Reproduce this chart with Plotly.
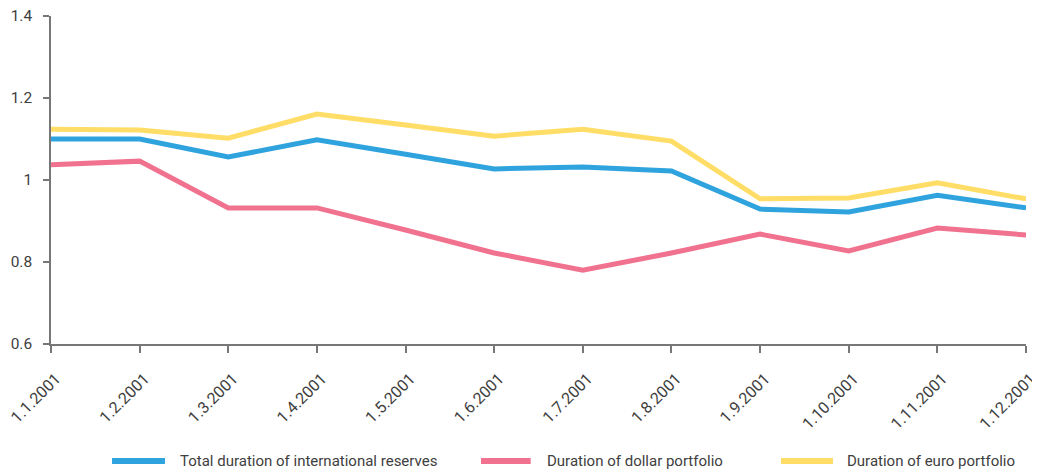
import plotly.graph_objects as go

dates = ["1.1.2001", "1.2.2001", "1.3.2001", "1.4.2001", "1.5.2001", "1.6.2001",
         "1.7.2001", "1.8.2001", "1.9.2001", "1.10.2001", "1.11.2001", "1.12.2001"]
total = [1.100, 1.100, 1.056, 1.098, 1.063, 1.027, 1.032, 1.022, 0.929, 0.922, 0.963, 0.932]
dollar = [1.037, 1.046, 0.932, 0.932, 0.878, 0.822, 0.780, 0.822, 0.868, 0.827, 0.883, 0.866]
euro = [1.124, 1.122, 1.102, 1.161, 1.134, 1.107, 1.124, 1.095, 0.954, 0.956, 0.993, 0.954]

names = ["Total duration of international reserves", "Duration of dollar portfolio",
         "Duration of euro portfolio"]
colors = ["#2FA3DD", "#F0728F", "#FFDD66"]

FONT = "Roboto, Open Sans, sans-serif"
TXT = "#404040"

fig = go.Figure()
for vals, name, col in zip([total, dollar, euro], names, colors):
    fig.add_trace(go.Scatter(x=list(range(len(dates))), y=vals, name=name, mode="lines",
                             line=dict(color=col, width=5), showlegend=False))

fig.update_layout(
    width=1040, height=475,
    margin=dict(l=43, r=22, t=8, b=139),
    plot_bgcolor="white", paper_bgcolor="white",
    font=dict(family=FONT, size=15, color=TXT),
    xaxis=dict(range=[0, len(dates) - 1], tickmode="array",
               tickvals=list(range(len(dates))), ticktext=dates,
               tickangle=-45, showgrid=False, zeroline=False, automargin=False,
               ticklabeloverflow="allow", ticklabelstandoff=10, ticklabelshift=5,
               showline=True, linecolor="#777777", linewidth=2,
               ticks="outside", ticklen=7, tickcolor="#777777", tickwidth=1.5,
               tickfont=dict(size=16, color=TXT, family=FONT)),
    yaxis=dict(range=[0.6, 1.4], tickvals=[0.6, 0.8, 1.0, 1.2, 1.4],
               ticktext=["0.6", "0.8", "1", "1.2", "1.4"],
               showgrid=False, zeroline=False, automargin=False,
               ticklabelstandoff=8, ticklabeloverflow="allow",
               showline=True, linecolor="#777777", linewidth=1.5,
               ticks="outside", ticklen=6, tickcolor="#777777", tickwidth=1.5,
               tickfont=dict(size=15.5, color=TXT, family=FONT)),
)

# legend drawn manually
leg_y = -0.357
leg = [(0.0626, 0.1169, 0.1303), (0.441, 0.492, 0.5067), (0.7487, 0.802, 0.8144)]
for (x0, x1, xt), name, col in zip(leg, names, colors):
    fig.add_shape(type="line", xref="paper", yref="paper", x0=x0, x1=x1, y0=leg_y, y1=leg_y,
                  line=dict(color=col, width=6))
    fig.add_annotation(xref="paper", yref="paper", x=xt, y=leg_y, text=name,
                       showarrow=False, xanchor="left", yanchor="middle",
                       font=dict(size=15, color=TXT, family=FONT))

fig.write_html("out.html")
